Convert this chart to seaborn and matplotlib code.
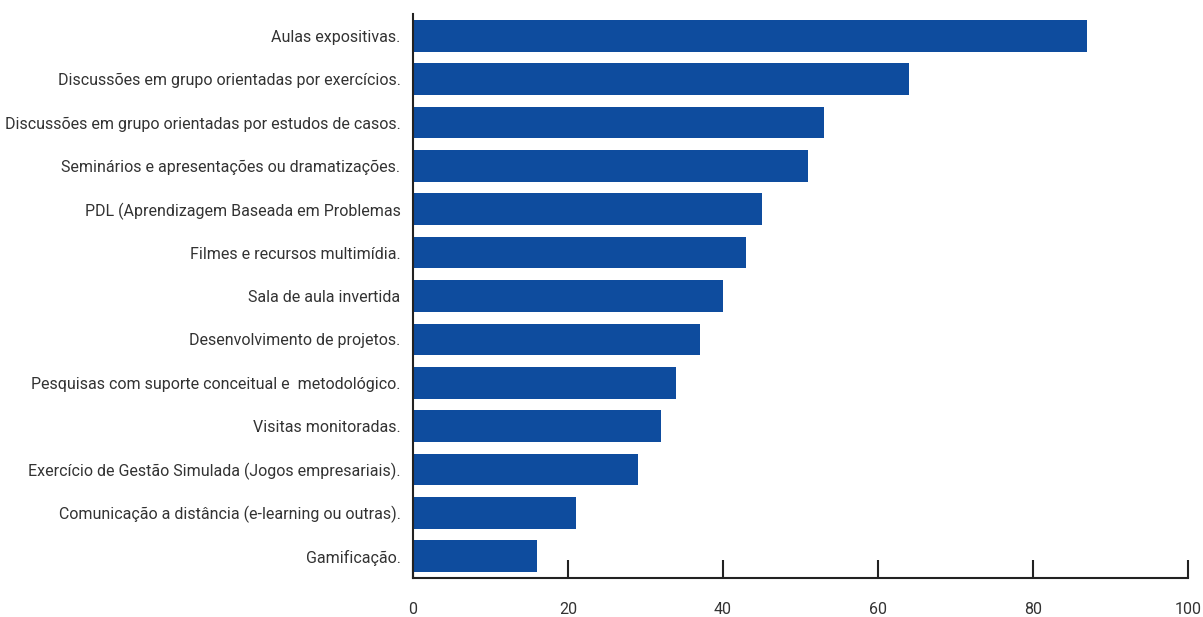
import pandas as pd
import seaborn as sns
import matplotlib.pyplot as plt

categorias = [
    "Aulas expositivas.",
    "Discussões em grupo orientadas por exercícios.",
    "Discussões em grupo orientadas por estudos de casos.",
    "Seminários e apresentações ou dramatizações.",
    "PDL (Aprendizagem Baseada em Problemas",
    "Filmes e recursos multimídia.",
    "Sala de aula invertida",
    "Desenvolvimento de projetos.",
    "Pesquisas com suporte conceitual e  metodológico.",
    "Visitas monitoradas.",
    "Exercício de Gestão Simulada (Jogos empresariais).",
    "Comunicação a distância (e-learning ou outras).",
    "Gamificação.",
]
valores = [87, 64, 53, 51, 45, 43, 40, 37, 34, 32, 29, 21, 16]
ticks_x = [0, 20, 40, 60, 80, 100]

df = pd.DataFrame({"metodo": categorias, "valor": valores})

sns.set_style("white")
plt.rcParams["font.family"] = ["Roboto", "DejaVu Sans"]

fig = plt.figure(figsize=(12.03, 6.17), dpi=100)
ax = fig.add_axes([0.3433, 0.0632, 0.6442, 0.914])

sns.barplot(data=df, x="valor", y="metodo", orient="h", color="#0e4c9e",
            saturation=1, width=0.73, linewidth=0, ax=ax)

ax.set_xlim(0, 100)
ax.set_xticks(ticks_x)
ax.set_xlabel("")
ax.set_ylabel("")
for s in ["top", "right"]:
    ax.spines[s].set_visible(False)
for s in ["left", "bottom"]:
    ax.spines[s].set_color("#222222")
    ax.spines[s].set_linewidth(1.5)

ax.tick_params(axis="x", bottom=True, direction="in", length=13, width=1.5,
               color="#222222", pad=17, labelsize=11.5, labelcolor="#333333")
ax.tick_params(axis="y", left=False, length=0, pad=9, labelsize=11.5,
               labelcolor="#333333")

fig.savefig("out.png", dpi=100)
